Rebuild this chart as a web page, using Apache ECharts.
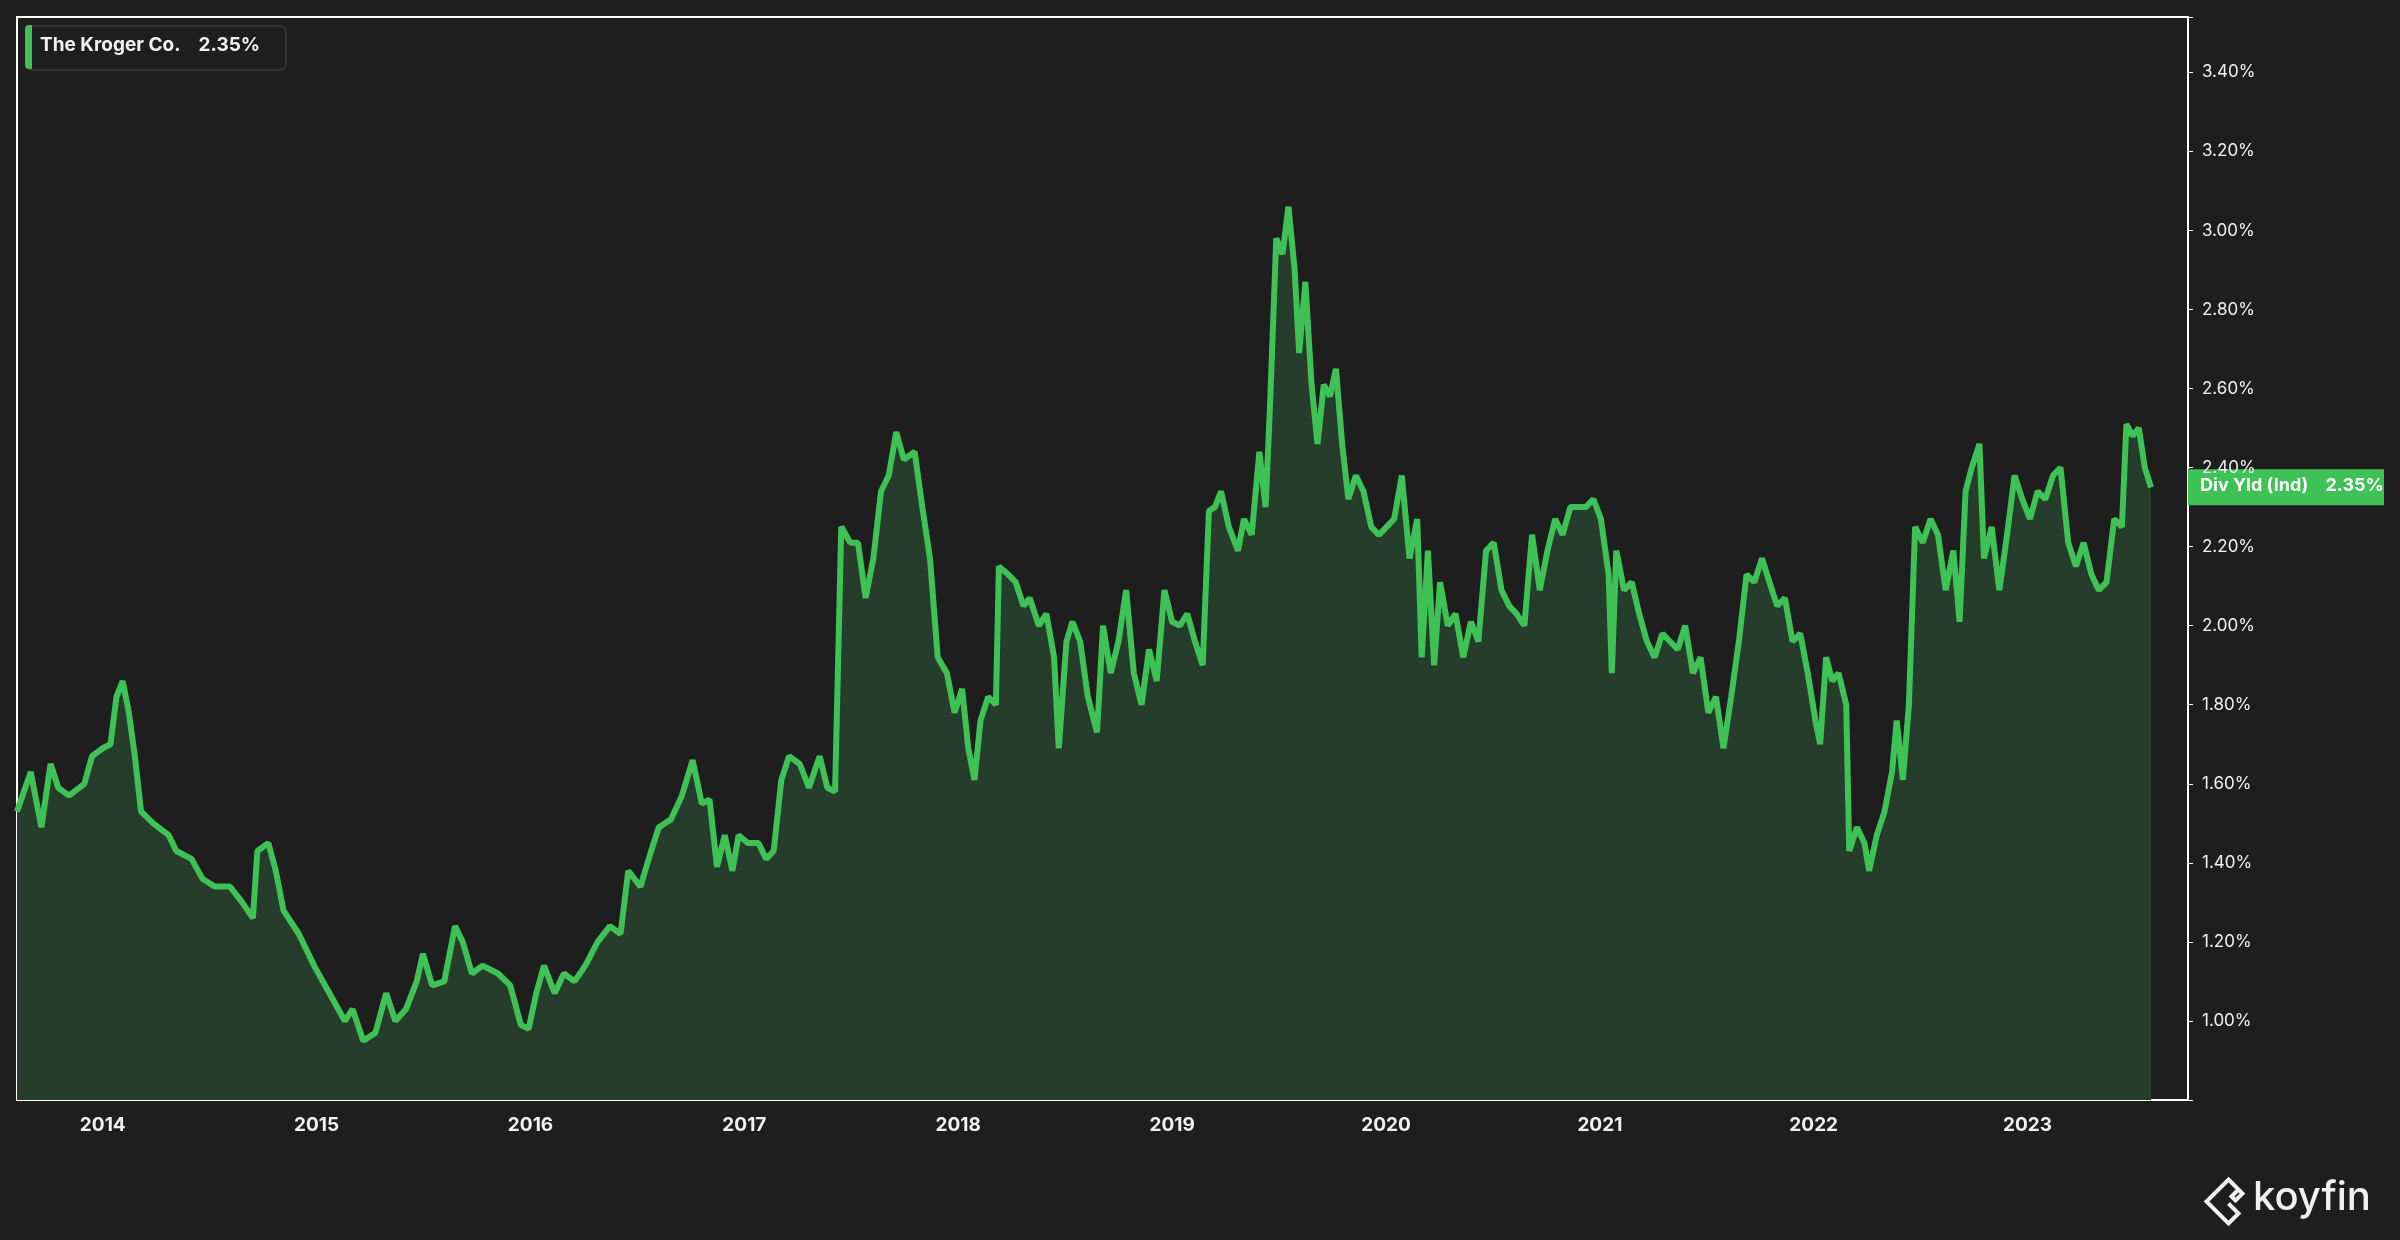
<!DOCTYPE html>
<html><head><meta charset="utf-8">
<script src="https://cdn.jsdelivr.net/npm/echarts@6/dist/echarts.min.js"></script>
<style>html,body{margin:0;background:#1e1e1e}#c{width:2400px;height:1240px}</style>
</head><body><div id="c"></div>
<script>
const yearTicks=[2014,2015,2016,2017,2018,2019,2020,2021,2022,2023];
const dates=[2013.599,2013.663,2013.713,2013.756,2013.792,2013.842,2013.914,2013.950,2014.000,2014.036,2014.064,2014.093,2014.122,2014.150,2014.179,2014.236,2014.308,2014.344,2014.415,2014.466,2014.523,2014.595,2014.652,2014.702,2014.723,2014.774,2014.809,2014.845,2014.917,2014.988,2015.060,2015.132,2015.168,2015.218,2015.275,2015.325,2015.368,2015.418,2015.468,2015.497,2015.540,2015.597,2015.647,2015.683,2015.726,2015.776,2015.848,2015.905,2015.955,2015.991,2016.027,2016.063,2016.113,2016.156,2016.206,2016.256,2016.314,2016.371,2016.421,2016.457,2016.514,2016.564,2016.600,2016.657,2016.708,2016.758,2016.801,2016.837,2016.872,2016.908,2016.944,2016.973,2017.016,2017.066,2017.102,2017.137,2017.173,2017.209,2017.259,2017.302,2017.352,2017.388,2017.424,2017.453,2017.496,2017.531,2017.567,2017.603,2017.639,2017.675,2017.710,2017.746,2017.796,2017.832,2017.868,2017.904,2017.947,2017.983,2018.018,2018.047,2018.076,2018.104,2018.140,2018.176,2018.190,2018.233,2018.269,2018.305,2018.334,2018.377,2018.412,2018.448,2018.470,2018.506,2018.534,2018.570,2018.606,2018.649,2018.677,2018.713,2018.749,2018.785,2018.821,2018.857,2018.892,2018.928,2018.964,2019.000,2019.036,2019.071,2019.107,2019.143,2019.172,2019.200,2019.229,2019.265,2019.308,2019.336,2019.372,2019.408,2019.437,2019.458,2019.487,2019.516,2019.544,2019.573,2019.594,2019.623,2019.652,2019.680,2019.709,2019.738,2019.766,2019.795,2019.824,2019.859,2019.895,2019.931,2019.967,2020.003,2020.038,2020.074,2020.110,2020.146,2020.167,2020.196,2020.225,2020.253,2020.289,2020.325,2020.361,2020.397,2020.432,2020.468,2020.504,2020.540,2020.576,2020.611,2020.647,2020.683,2020.719,2020.755,2020.791,2020.826,2020.862,2020.898,2020.934,2020.970,2021.005,2021.041,2021.056,2021.077,2021.113,2021.149,2021.184,2021.220,2021.256,2021.292,2021.328,2021.364,2021.399,2021.435,2021.471,2021.507,2021.543,2021.578,2021.614,2021.650,2021.686,2021.722,2021.758,2021.793,2021.829,2021.865,2021.901,2021.937,2021.972,2022.008,2022.030,2022.058,2022.087,2022.116,2022.152,2022.166,2022.202,2022.237,2022.259,2022.295,2022.331,2022.366,2022.388,2022.417,2022.445,2022.474,2022.510,2022.546,2022.581,2022.617,2022.653,2022.682,2022.710,2022.739,2022.775,2022.796,2022.832,2022.868,2022.904,2022.939,2022.975,2023.011,2023.047,2023.083,2023.119,2023.154,2023.190,2023.226,2023.262,2023.298,2023.333,2023.369,2023.405,2023.441,2023.462,2023.491,2023.520,2023.548,2023.577];
const yields=[1.53,1.63,1.49,1.65,1.59,1.57,1.60,1.67,1.69,1.70,1.82,1.86,1.78,1.67,1.53,1.50,1.47,1.43,1.41,1.36,1.34,1.34,1.30,1.26,1.43,1.45,1.38,1.28,1.22,1.14,1.07,1.00,1.03,0.95,0.97,1.07,1.00,1.03,1.10,1.17,1.09,1.10,1.24,1.20,1.12,1.14,1.12,1.09,0.99,0.98,1.07,1.14,1.07,1.12,1.10,1.14,1.20,1.24,1.22,1.38,1.34,1.43,1.49,1.51,1.57,1.66,1.55,1.56,1.39,1.47,1.38,1.47,1.45,1.45,1.41,1.43,1.61,1.67,1.65,1.59,1.67,1.59,1.58,2.25,2.21,2.21,2.07,2.17,2.34,2.38,2.49,2.42,2.44,2.30,2.17,1.92,1.88,1.78,1.84,1.69,1.61,1.76,1.82,1.80,2.15,2.13,2.11,2.05,2.07,2.00,2.03,1.92,1.69,1.96,2.01,1.96,1.82,1.73,2.00,1.88,1.96,2.09,1.88,1.80,1.94,1.86,2.09,2.01,2.00,2.03,1.96,1.90,2.29,2.30,2.34,2.25,2.19,2.27,2.23,2.44,2.30,2.56,2.98,2.94,3.06,2.90,2.69,2.87,2.61,2.46,2.61,2.58,2.65,2.46,2.32,2.38,2.34,2.25,2.23,2.25,2.27,2.38,2.17,2.27,1.92,2.19,1.90,2.11,2.00,2.03,1.92,2.01,1.96,2.19,2.21,2.09,2.05,2.03,2.00,2.23,2.09,2.19,2.27,2.23,2.30,2.30,2.30,2.32,2.27,2.13,1.88,2.19,2.09,2.11,2.03,1.96,1.92,1.98,1.96,1.94,2.00,1.88,1.92,1.78,1.82,1.69,1.82,1.96,2.13,2.11,2.17,2.11,2.05,2.07,1.96,1.98,1.88,1.76,1.70,1.92,1.86,1.88,1.80,1.43,1.49,1.45,1.38,1.47,1.53,1.63,1.76,1.61,1.80,2.25,2.21,2.27,2.23,2.09,2.19,2.01,2.34,2.40,2.46,2.17,2.25,2.09,2.23,2.38,2.32,2.27,2.34,2.32,2.38,2.40,2.21,2.15,2.21,2.13,2.09,2.11,2.27,2.25,2.51,2.48,2.50,2.40,2.35];
const seriesName='The Kroger Co.';
const lastValue=2.35;
const labelName='Div Yld (Ind)';

const data=dates.map((d,i)=>[d,yields[i]]);
const chart=echarts.init(document.getElementById('c'));
const F='Inter, "Noto Sans", sans-serif';
const lastTxt=lastValue.toFixed(2)+'%';
chart.setOption({
  backgroundColor:'#1e1e1e',
  animation:false,
  grid:{left:17,right:212,top:17,bottom:140,show:true,borderColor:'#ffffff',borderWidth:2,backgroundColor:'transparent'},
  xAxis:{type:'value',min:2013.599,max:2023.75,
    axisLine:{show:false},splitLine:{show:false},
    axisTick:{show:false},
    axisLabel:{customValues:yearTicks,color:'#f0f0f0',fontFamily:F,fontWeight:'bold',fontSize:19,margin:16,formatter:v=>String(Math.round(v))}},
  yAxis:{type:'value',position:'right',min:0.8,max:3.54,interval:0.2,
    axisLine:{show:false},splitLine:{show:false},
    axisTick:{show:true,length:5,lineStyle:{color:'#ffffff'}},
    axisLabel:{color:'#f0f0f0',fontFamily:F,fontSize:17,margin:14,
      formatter:v=>(v<0.9||v>3.5)?'':v.toFixed(2)+'%'}},
  series:[{type:'line',data:data,showSymbol:false,symbol:'none',
    lineStyle:{color:'#3ec155',width:6},
    areaStyle:{color:'#253d2a',opacity:1}}],
  graphic:[
    {type:'rect',left:25,top:25,shape:{width:260,height:44,r:6},style:{fill:'#1e1e1e',stroke:'#333333',lineWidth:2}},
    {type:'rect',left:25,top:25,shape:{width:7,height:44,r:[4,0,0,4]},style:{fill:'#3ec155'}},
    {type:'text',left:40,top:36,style:{text:seriesName+'    '+lastTxt,fill:'#f0f0f0',font:'bold 19px '+F}},
    {type:'polyline',left:2204,top:1177,shape:{points:[[22,0],[32,10],[25,17],[29,21],[36,14],[22,0],[0,22],[22,44],[32,34],[22,24]]},style:{stroke:'#f0f0f0',fill:null,lineWidth:4}},
    {type:'text',left:2253,top:1178,style:{text:'koyfin',fill:'#f0f0f0',font:'500 40px '+F}}
  ]
});
const py=chart.convertToPixel({yAxisIndex:0},lastValue);
chart.setOption({graphic:[
  {type:'rect',id:'lb',left:2188,top:py-18,shape:{width:196,height:36},style:{fill:'#3ec155'}},
  {type:'text',id:'lt',left:2200,top:py-11,style:{text:labelName+'    '+lastTxt,fill:'#ffffff',font:'bold 18px '+F}}
]});
</script></body></html>
